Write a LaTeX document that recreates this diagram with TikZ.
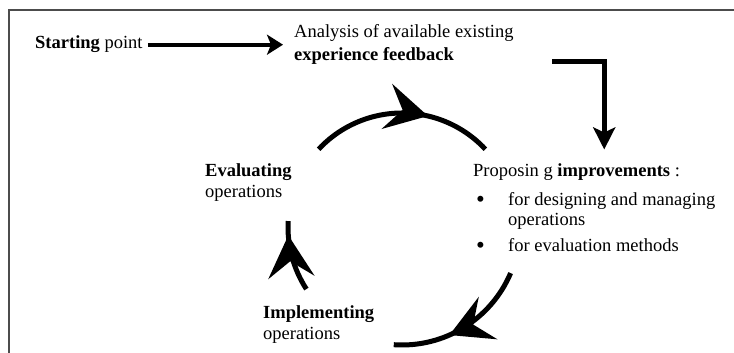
\documentclass[tikz,border=0pt]{standalone}
\usepackage{fontspec}
\setmainfont{Liberation Serif}
\usetikzlibrary{arrows.meta,decorations.markings}
\newcommand\bigbul{\raisebox{-1.5pt}{\fontsize{25}{25}\selectfont\textbullet}}
\tikzset{
  lbl/.style={anchor=base west,inner sep=0pt,align=left,font=\fontsize{18.5}{21.5}\selectfont},
  startarrow/.style={line width=4pt,-{Stealth[length=16pt,width=20pt,inset=4pt]}},
  elbowarrow/.style={line width=5pt,-{Stealth[length=22pt,width=22pt,inset=5pt]}},
  cycarrow/.style={line width=5pt,postaction={decorate},
    decoration={markings,mark=at position #1 with {\arrow{Stealth[length=42pt,width=46pt,inset=16pt]}}}}
}
\begin{document}
\begin{tikzpicture}[x=1pt,y=1pt]
  \useasboundingbox (0,0) rectangle (734,353);
  \draw[line width=1.5pt,black!70] (9,0) -- (9,343) -- (734,343);
  \path node[lbl] (start) at (35,304) {\textbf{Starting} point}
        node[lbl] (analysis) at (294,292) {Analysis of available existing\\[1.5pt]\textbf{experience feedback}}
        node[lbl] (prop) at (473,101) {Proposin g \textbf{improvements} :\\[8pt]
          \makebox[35pt][l]{\hspace*{3pt}\bigbul}for designing and managing\\[-2pt]
          \hspace*{35pt}operations\\[5pt]
          \makebox[35pt][l]{\hspace*{3pt}\bigbul}for evaluation methods}
        node[lbl] (eval) at (205,155) {\textbf{Evaluating}\\operations}
        node[lbl] (impl) at (263,13) {\textbf{Implementing}\\operations};
  \coordinate (fbend) at (552,291);
  \coordinate (cyc) at (402,126);
  \draw[startarrow,shorten <=5pt,shorten >=11pt] ([yshift=2pt]start.mid east) -- ([yshift=2pt]start.mid east -| analysis.west);
  \draw[elbowarrow] (fbend) -| ([shift={(10,14)}]prop.north);
  \draw[cycarrow=0.64] (cyc) ++(137:114) arc[start angle=137,end angle=43,radius=114];
  \draw[cycarrow=0.61] (cyc) ++(-23:118) arc[start angle=-23,end angle=-94,radius=118];
  \draw[cycarrow=0.8] (cyc) ++(213:114) arc[start angle=213,end angle=177,radius=114];
\end{tikzpicture}
\end{document}
